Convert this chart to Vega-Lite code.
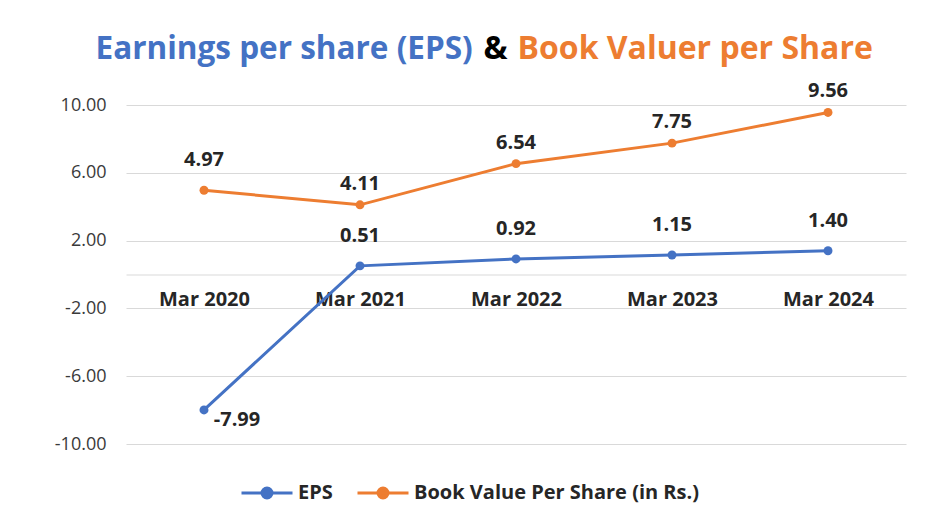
{
  "$schema": "https://vega.github.io/schema/vega-lite/v6.json",
  "width": 780,
  "height": 339,
  "autosize": {"type": "none"},
  "padding": {"left": 126, "top": 105, "right": 29, "bottom": 80},
  "background": "white",
  "config": {"view": {"stroke": null}, "font": "Open Sans"},
  "data": {
    "values": [
      {"year": "Mar 2020", "series": "EPS", "value": -7.99},
      {"year": "Mar 2021", "series": "EPS", "value": 0.51},
      {"year": "Mar 2022", "series": "EPS", "value": 0.92},
      {"year": "Mar 2023", "series": "EPS", "value": 1.15},
      {"year": "Mar 2024", "series": "EPS", "value": 1.40},
      {"year": "Mar 2020", "series": "Book Value Per Share (in Rs.)", "value": 4.97},
      {"year": "Mar 2021", "series": "Book Value Per Share (in Rs.)", "value": 4.11},
      {"year": "Mar 2022", "series": "Book Value Per Share (in Rs.)", "value": 6.54},
      {"year": "Mar 2023", "series": "Book Value Per Share (in Rs.)", "value": 7.75},
      {"year": "Mar 2024", "series": "Book Value Per Share (in Rs.)", "value": 9.56}
    ]
  },
  "transform": [
    {"calculate": "replace(format(datum.value, '.2f'), '\u2212', '-')", "as": "label"}
  ],
  "encoding": {
    "x": {
      "field": "year",
      "type": "ordinal",
      "sort": null,
      "scale": {"type": "point", "padding": 0.5},
      "axis": {
        "orient": "bottom",
        "offset": -169.5,
        "labelAngle": 0,
        "labelFont": "Open Sans",
        "labelFontSize": 20,
        "labelFontWeight": "bold",
        "labelColor": "#262626",
        "labelPadding": 15,
        "ticks": false,
        "domain": true,
        "domainColor": "#d9d9d9",
        "domainWidth": 1,
        "grid": false,
        "title": "Book Valuer per Share",
        "titleFont": "Open Sans",
        "titleFontSize": 32,
        "titleFontWeight": "bold",
        "titleColor": "#ED7D31",
        "titleAngle": 0,
        "titleAlign": "left",
        "titleBaseline": "alphabetic",
        "titleX": 391,
        "titleY": -216.5
      }
    }
  },
  "layer": [
    {
      "mark": {"type": "line", "strokeWidth": 3, "point": {"filled": true, "size": 80}},
      "encoding": {
        "y": {
          "field": "value",
          "type": "quantitative",
          "scale": {"domain": [-10, 10], "nice": false, "zero": false},
          "axis": {
            "orient": "left",
            "values": [-10, -6, -2, 2, 6, 10],
            "format": ".2f",
            "labelExpr": "replace(datum.label, '\u2212', '-')",
            "labelFont": "Open Sans",
            "labelFontSize": 18,
            "labelColor": "#3a3a3a",
            "labelPadding": 20,
            "ticks": false,
            "domain": false,
            "grid": true,
            "gridColor": "#d9d9d9",
            "gridWidth": 1,
            "title": "&",
            "titleFont": "Open Sans",
            "titleFontSize": 32,
            "titleFontWeight": "bold",
            "titleColor": "#000000",
            "titleAngle": 0,
            "titleAlign": "center",
            "titleBaseline": "alphabetic",
            "titleX": 369,
            "titleY": -47
          }
        },
        "color": {
          "field": "series",
          "type": "nominal",
          "sort": null,
          "scale": {"domain": ["EPS", "Book Value Per Share (in Rs.)"], "range": ["#4472C4", "#ED7D31"]},
          "legend": {
            "orient": "none",
            "legendX": 114,
            "legendY": 361,
            "direction": "horizontal",
            "title": null,
            "symbolType": "M-1,0H1M0.196,0A0.196,0.196,0,1,1,-0.196,0A0.196,0.196,0,1,1,0.196,0",
            "symbolSize": 2601,
            "symbolStrokeWidth": 3,
            "labelFont": "Open Sans",
            "labelFontSize": 20,
            "labelFontWeight": "bold",
            "labelColor": "#262626",
            "labelOffset": 4,
            "labelLimit": 0,
            "columnPadding": 18,
            "encode": {"symbols": {"update": {"fill": {"scale": "color", "field": "value"}, "stroke": {"scale": "color", "field": "value"}}}}
          }
        }
      }
    },
    {
      "transform": [{"filter": "(datum.series == 'EPS' && datum.value > 0) || (datum.series != 'EPS' && datum.year == 'Mar 2020')"}],
      "mark": {"type": "text", "font": "Open Sans", "fontSize": 20, "fontWeight": "bold", "color": "#262626", "baseline": "middle", "dy": -30},
      "encoding": {
        "y": {
          "field": "value",
          "type": "quantitative",
          "scale": {"domain": [-10, 10], "nice": false, "zero": false},
          "axis": {
            "orient": "right",
            "labels": false,
            "ticks": false,
            "domain": false,
            "grid": false,
            "title": "Earnings per share (EPS)",
            "titleFont": "Open Sans",
            "titleFontSize": 31.5,
            "titleFontWeight": "bold",
            "titleColor": "#4472C4",
            "titleAngle": 0,
            "titleAlign": "left",
            "titleBaseline": "alphabetic",
            "titleX": -811,
            "titleY": -47
          }
        },
        "text": {"field": "label", "type": "nominal"}
      }
    },
    {
      "transform": [{"filter": "datum.series != 'EPS' && datum.year != 'Mar 2020'"}],
      "mark": {"type": "text", "font": "Open Sans", "fontSize": 20, "fontWeight": "bold", "color": "#262626", "baseline": "middle", "dy": -21},
      "encoding": {
        "y": {"field": "value", "type": "quantitative", "scale": {"domain": [-10, 10], "nice": false, "zero": false}, "axis": null},
        "text": {"field": "label", "type": "nominal"}
      }
    },
    {
      "transform": [{"filter": "datum.value < 0"}],
      "mark": {"type": "text", "font": "Open Sans", "fontSize": 20, "fontWeight": "bold", "color": "#262626", "baseline": "middle", "dx": 33, "dy": 10},
      "encoding": {
        "y": {"field": "value", "type": "quantitative", "scale": {"domain": [-10, 10], "nice": false, "zero": false}, "axis": null},
        "text": {"field": "label", "type": "nominal"}
      }
    }
  ],
  "resolve": {"axis": {"y": "independent"}}
}
